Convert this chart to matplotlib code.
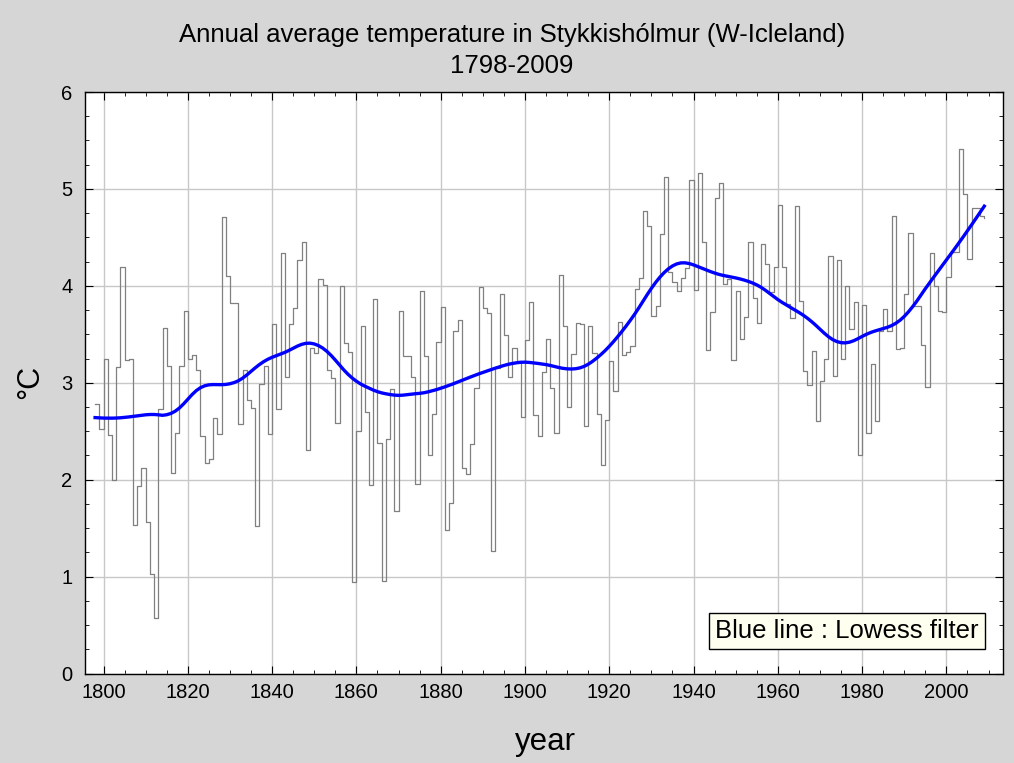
import numpy as np
import matplotlib
matplotlib.use("Agg")
import matplotlib.pyplot as plt
from matplotlib.ticker import MultipleLocator

# annual mean temperature, Stykkisholmur, 1798-2009
first_year = 1798
temps = [
    2.78, 2.52,
    3.24, 2.46, 2.00, 3.16, 4.19, 3.23, 3.24, 1.53, 1.93, 2.12,  # 1800s
    1.56, 1.03, 0.57, 2.73, 3.56, 3.17, 2.07, 2.48, 3.17, 3.74,  # 1810s
    3.24, 3.29, 3.13, 2.45, 2.17, 2.21, 2.64, 2.47, 4.71, 4.10,  # 1820s
    3.82, 3.82, 2.57, 3.13, 2.82, 2.74, 1.52, 2.99, 3.17, 2.47,  # 1830s
    3.61, 2.73, 4.34, 3.06, 3.61, 3.77, 4.27, 4.45, 2.31, 3.36,  # 1840s
    3.31, 4.07, 4.01, 3.13, 3.05, 2.58, 4.00, 3.41, 3.32, 0.94,  # 1850s
    2.50, 3.59, 2.70, 1.95, 3.86, 2.38, 0.95, 2.42, 2.94, 1.68,  # 1860s
    3.74, 3.28, 3.28, 3.06, 1.96, 3.95, 3.28, 2.25, 2.68, 3.42,  # 1870s
    3.78, 1.48, 1.76, 3.53, 3.65, 2.12, 2.06, 2.37, 2.95, 3.99,  # 1880s
    3.77, 3.72, 1.26, 3.15, 3.92, 3.49, 3.06, 3.36, 3.22, 2.65,  # 1890s
    3.44, 3.83, 2.67, 2.45, 3.11, 3.45, 2.95, 2.48, 4.11, 3.59,  # 1900s
    2.75, 3.30, 3.62, 3.61, 2.55, 3.59, 3.31, 2.68, 2.15, 2.62,  # 1910s
    3.22, 2.92, 3.63, 3.29, 3.32, 3.38, 3.97, 4.08, 4.77, 4.62,  # 1920s
    3.69, 3.79, 4.54, 5.12, 4.14, 4.04, 3.95, 4.08, 4.18, 5.09,  # 1930s
    3.96, 5.16, 4.45, 3.34, 3.73, 4.91, 5.06, 4.02, 4.07, 3.23,  # 1940s
    3.95, 3.45, 3.68, 4.45, 3.87, 3.62, 4.43, 4.23, 3.94, 4.19,  # 1950s
    4.83, 4.19, 3.81, 3.67, 4.82, 3.84, 3.12, 2.98, 3.33, 2.61,  # 1960s
    3.02, 3.24, 4.31, 3.07, 4.27, 3.25, 4.00, 3.55, 3.83, 2.25,  # 1970s
    3.80, 2.48, 3.19, 2.61, 3.53, 3.76, 3.53, 4.72, 3.35, 3.36,  # 1980s
    3.92, 4.55, 3.79, 3.79, 3.39, 2.96, 4.34, 4.00, 3.74, 3.73,  # 1990s
    4.09, 4.35, 4.35, 5.41, 4.95, 4.28, 4.80, 4.80, 4.72, 4.70,  # 2000s
]
years = np.arange(first_year, first_year + len(temps))
temps = np.array(temps)

x_ticks = [1800, 1820, 1840, 1860, 1880, 1900, 1920, 1940, 1960, 1980, 2000]
y_ticks = [0, 1, 2, 3, 4, 5, 6]


def lowess(x, y, frac=0.15, iters=3):
    # plain local-linear lowess with tricube weights + robustness steps
    x = x - x.mean()
    n = len(x)
    r = int(np.ceil(frac * n))
    h = np.array([np.sort(np.abs(x - x[i]))[r] for i in range(n)])
    w = np.clip(np.abs((x[:, None] - x[None, :]) / h[None, :]), 0, 1)
    w = (1 - w ** 3) ** 3
    fit = np.zeros(n)
    delta = np.ones(n)
    for _ in range(iters):
        for i in range(n):
            wt = delta * w[:, i]
            A = np.array([[wt.sum(), (wt * x).sum()],
                          [(wt * x).sum(), (wt * x * x).sum()]])
            b = np.array([(wt * y).sum(), (wt * y * x).sum()])
            beta = np.linalg.solve(A, b)
            fit[i] = beta[0] + beta[1] * x[i]
        res = y - fit
        s = np.median(np.abs(res))
        u = np.clip(res / (6 * s), -1, 1)
        delta = (1 - u ** 2) ** 2
    return fit


smooth = lowess(years.astype(float), temps, frac=0.15)

plt.rcParams['font.family'] = ['Liberation Sans', 'DejaVu Sans']

fig = plt.figure(figsize=(10.14, 7.63), dpi=100, facecolor='#d6d6d6')
ax = fig.add_axes([0.0838, 0.1173, 0.9052, 0.7621])
ax.set_facecolor('white')

ax.step(years, temps, where='post', color='#808080', lw=0.9)
ax.plot(years, smooth, color='#0000ff', lw=2.4)

ax.set_xlim(1795.6, 2013.4)
ax.set_ylim(0, 6)
ax.set_xticks(x_ticks)
ax.set_yticks(y_ticks)
ax.xaxis.set_minor_locator(MultipleLocator(5))
ax.yaxis.set_minor_locator(MultipleLocator(0.25))
ax.grid(True, color='#c8c8c8', lw=1.0)
ax.set_axisbelow(True)
ax.tick_params(which='both', direction='in', top=True, right=True,
               labelsize=14.5, color='black')
ax.tick_params(which='major', length=6)
ax.tick_params(which='minor', length=3)
ax.tick_params(axis='x', pad=7)
ax.tick_params(axis='y', pad=9)
for sp in ax.spines.values():
    sp.set_color('black')
    sp.set_linewidth(1.0)

ax.set_xlabel('year', fontsize=22.5, va='center')
ax.xaxis.set_label_coords(0.502, -0.118)
ax.set_ylabel('°C', fontsize=22, va='center')
ax.yaxis.set_label_coords(-0.06, 0.501)

fig.text(0.505, 0.954, 'Annual average temperature in Stykkishólmur (W-Icleland)',
         ha='center', va='center', fontsize=18.5)
fig.text(0.505, 0.9135, '1798-2009', ha='center', va='center', fontsize=18.5)

ax.text(0.830, 0.073, 'Blue line : Lowess filter', transform=ax.transAxes,
        ha='center', va='center', fontsize=18.5,
        bbox=dict(boxstyle='square,pad=0.25', facecolor='#fffff0',
                  edgecolor='black', lw=1.0))

fig.savefig('out.png', dpi=100, facecolor=fig.get_facecolor())
